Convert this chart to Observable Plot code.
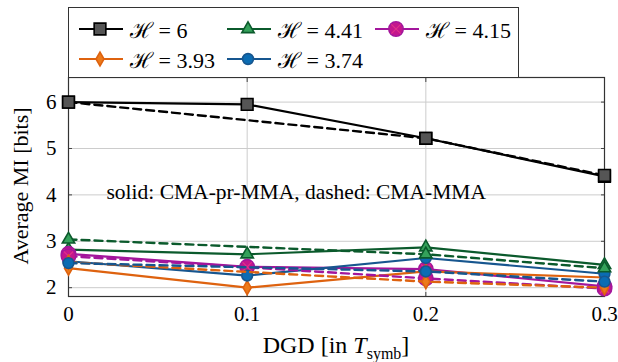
<!DOCTYPE html>
<html>
<head>
<meta charset="utf-8">
<script src="https://cdn.jsdelivr.net/npm/d3@7"></script>
<script src="https://cdn.jsdelivr.net/npm/@observablehq/plot@0.6"></script>
<style>
  html, body { margin: 0; padding: 0; background: #fff; }
  #wrap { position: relative; width: 618px; height: 362px; font-family: "Liberation Serif", "DejaVu Serif", serif; }
  #legend { position: absolute; left: 68px; top: 7px; width: 451px; height: 71px; border: 1px solid #333; background: #fff; box-sizing: border-box; }
  .entry { position: absolute; height: 26px; display: flex; align-items: center; font-size: 22px; white-space: nowrap; }
  .entry svg { margin-right: 6px; }
  #xlabel { position: absolute; left: 0; width: 672px; top: 332px; text-align: center; font-size: 24px; }
  #ylabel { position: absolute; left: 21px; top: 186px; font-size: 22px; transform: translate(-50%, -50%) rotate(-90deg); white-space: nowrap; }
</style>
</head>
<body>
<div id="wrap"></div>
<script>
// ---- data ----
const dgd = [0, 0.1, 0.2, 0.3];          // CMA-pr-MMA (solid)
const dgdDashed = [0, 0.2, 0.3];         // CMA-MMA (dashed)
const entropies = ["6", "4.41", "4.15", "3.93", "3.74"];
const solidH6   = [6.00, 5.95, 5.22, 4.40];
const solidH441 = [2.82, 2.72, 2.87, 2.49];
const solidH415 = [2.73, 2.45, 2.40, 2.03];
const solidH393 = [2.42, 2.00, 2.35, 2.22];
const solidH374 = [2.57, 2.26, 2.64, 2.30];
const dashedH6   = [6.00, 5.22, 4.42];
const dashedH441 = [3.04, 2.72, 2.42];
const dashedH415 = [2.68, 2.20, 1.98];
const dashedH393 = [2.55, 2.13, 2.00];
const dashedH374 = [2.53, 2.35, 2.13];
const xTicks = [0, 0.1, 0.2, 0.3];
const yTicks = [2, 3, 4, 5, 6];
const note = "solid: CMA-pr-MMA, dashed: CMA-MMA";

// ---- styles ----
const serif = "Liberation Serif, DejaVu Serif, serif";
const styles = [
  {line: "#000000", fill: "#555555", stroke: "#000000", symbol: "square",   r: 6.6},
  {line: "#0b5a2c", fill: "#34a15a", stroke: "#0b5a2c", symbol: "triangle", r: 4.6},
  {line: "#a3169c", fill: "#c3168d", stroke: "#a3169c", symbol: "circle",   r: 7.2, cross: "#e0308a"},
  {line: "#de620f", fill: "#ec7a1a", stroke: "#de620f", symbol: "diamond",  r: 4.2},
  {line: "#17568f", fill: "#0b6cb3", stroke: "#17568f", symbol: "circle",   r: 5.4}
];
const solidSeries = [solidH6, solidH441, solidH415, solidH393, solidH374];
const dashedSeries = [dashedH6, dashedH441, dashedH415, dashedH393, dashedH374];

function rows(xs, ys, k) { return xs.map((x, i) => ({x, y: ys[i], k})); }

const marks = [
  Plot.gridX(xTicks.slice(1, 3), {stroke: "#cccccc", strokeOpacity: 1}),
  Plot.gridY(yTicks, {stroke: "#cccccc", strokeOpacity: 1}),
  Plot.axisY({ticks: yTicks, tickSize: 0, tickPadding: 12, fontSize: 21, fontFamily: serif, tickFormat: d => String(d), label: null}),
  Plot.axisY({ticks: yTicks, tickSize: 4, dx: 4, tickFormat: () => "", label: null, stroke: "#444"}),
  Plot.axisY({ticks: yTicks, anchor: "right", tickSize: 4, dx: -4, tickFormat: () => "", label: null, stroke: "#444"}),
  Plot.axisX({ticks: xTicks, tickSize: 0, tickPadding: 10, fontSize: 21, fontFamily: serif, tickFormat: d => String(d), label: null}),
  Plot.axisX({ticks: xTicks, tickSize: 4, dy: -4, tickFormat: () => "", label: null, stroke: "#444"}),
  Plot.axisX({ticks: xTicks, anchor: "top", tickSize: 4, dy: 4, tickFormat: () => "", label: null, stroke: "#444"}),
  Plot.frame({stroke: "#333", strokeWidth: 1.2}),
  Plot.text([note], {frameAnchor: "top-left", dx: 38, dy: 106, textAnchor: "start", fontSize: 21.5, fontFamily: serif, fill: "#000"})
];
solidSeries.forEach((ys, k) => {
  const s = styles[k], d = rows(dgd, ys, k);
  marks.push(Plot.line(d, {x: "x", y: "y", stroke: s.line, strokeWidth: 2.2}));
  marks.push(Plot.dot(d, {x: "x", y: "y", symbol: () => s.symbol, r: s.r, fill: s.fill, stroke: s.stroke, strokeWidth: 1.6}));
  if (s.cross) marks.push(Plot.dot(d, {x: "x", y: "y", symbol: () => "times", r: s.r * 0.6, stroke: s.cross, strokeWidth: 1.2}));
});
dashedSeries.forEach((ys, k) => {
  const s = styles[k], d = rows(dgdDashed, ys, k);
  marks.push(Plot.line(d, {x: "x", y: "y", stroke: s.line, strokeWidth: 2.4, strokeDasharray: "8,5"}));
  marks.push(Plot.dot(d, {x: "x", y: "y", symbol: () => s.symbol, r: s.r, fill: s.fill, stroke: s.stroke, strokeWidth: 1.6}));
  if (s.cross) marks.push(Plot.dot(d, {x: "x", y: "y", symbol: () => "times", r: s.r * 0.6, stroke: s.cross, strokeWidth: 1.2}));
});

const chart = Plot.plot({
  width: 618, height: 362,
  marginLeft: 68, marginRight: 14, marginTop: 77, marginBottom: 66,
  x: {domain: [0, 0.3]},
  y: {domain: [1.81, 6.53]},
  style: {fontFamily: serif, fontSize: "20px", color: "#000", background: "#fff"},
  marks
});
chart.querySelectorAll("g, text").forEach(el => {
  el.removeAttribute("font-variant");
  el.style.fontFamily = serif;
  el.style.fontVariant = "normal";
  el.style.fontVariantNumeric = "normal";
});
const wrap = document.getElementById("wrap");
chart.style.position = "absolute"; chart.style.left = "0"; chart.style.top = "0";
wrap.appendChild(chart);

// legend
const legend = document.createElement("div");
legend.id = "legend";
wrap.appendChild(legend);
const pos = [[9, 8], [157, 8], [305, 8], [9, 38], [157, 38]];
entropies.forEach((h, k) => {
  const s = styles[k];
  const e = document.createElement("div");
  e.className = "entry";
  e.style.left = pos[k][0] + "px"; e.style.top = pos[k][1] + "px";
  const sym = d3.symbol(d3["symbol" + s.symbol[0].toUpperCase() + s.symbol.slice(1)], Math.PI * s.r * s.r)();
  const cross = s.cross ? `<path d="${d3.symbol(d3.symbolTimes, Math.PI * (s.r*0.6) ** 2)()}" transform="translate(22,13)" stroke="${s.cross}" stroke-width="1.2" fill="none"/>` : "";
  e.innerHTML = `<svg width="46" height="26"><line x1="1" x2="45" y1="13" y2="13" stroke="${s.line}" stroke-width="2"/>` +
    `<path d="${sym}" transform="translate(22,13)" fill="${s.fill}" stroke="${s.stroke}" stroke-width="1.6"/>${cross}</svg>` +
    `<span>ℋ = ${h}</span>`;
  legend.appendChild(e);
});

const xl = document.createElement("div");
xl.id = "xlabel";
xl.innerHTML = "DGD [in <i>T</i><sub style='font-size:16px'>symb</sub>]";
wrap.appendChild(xl);
const yl = document.createElement("div");
yl.id = "ylabel";
yl.textContent = "Average MI [bits]";
wrap.appendChild(yl);
</script>
</body>
</html>
